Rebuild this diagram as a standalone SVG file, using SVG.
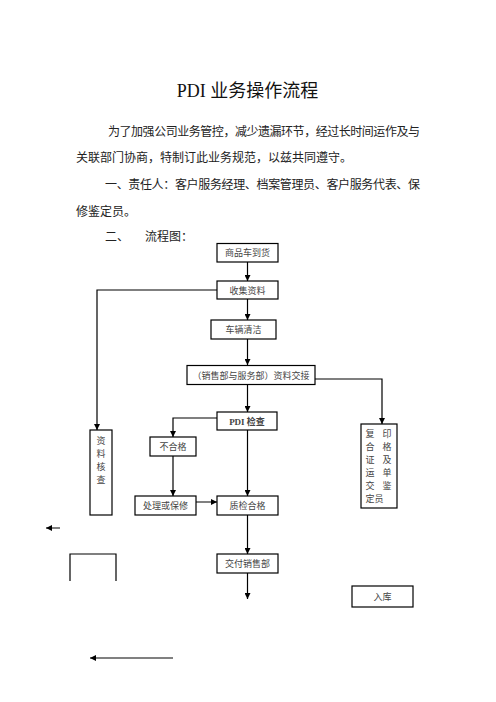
<svg xmlns="http://www.w3.org/2000/svg" width="496" height="702" viewBox="0 0 496 702">
<style>
.bg{fill:#fff}
.box{fill:#fff;stroke:#000;stroke-width:1.2}
.t{font-family:"Liberation Serif","Noto Sans CJK SC",serif;fill:#444;font-size:9px;text-anchor:middle}
.p{font-family:"Liberation Serif","Noto Sans CJK SC",serif;fill:#222;font-size:12px}
.title{font-family:"Liberation Serif","Noto Sans CJK SC",serif;fill:#111;font-size:18px;text-anchor:middle}
.ln{fill:none;stroke:#000;stroke-width:1.2}
.gl{fill:none;stroke:#808080;stroke-width:2}
</style>
<defs>
<marker id="ah" markerUnits="userSpaceOnUse" markerWidth="6" markerHeight="6" refX="6" refY="3" orient="auto"><path d="M0,0 L6,3 L0,6 z" fill="#000"/></marker>
<marker id="ahg" markerUnits="userSpaceOnUse" markerWidth="7" markerHeight="6" refX="6" refY="3" orient="auto"><path d="M0,0 L6,3 L0,6 z" fill="#000"/></marker>
</defs>
<rect class="bg" x="0" y="0" width="496" height="702"/>
<text class="title" x="247.5" y="97">PDI 业务操作流程</text>
<text class="p" x="108" y="136" textLength="312" lengthAdjust="spacing">为了加强公司业务管控，减少遗漏环节，经过长时间运作及与</text>
<text class="p" x="76" y="162">关联部门协商，特制订此业务规范，以兹共同遵守。</text>
<text class="p" x="105" y="189" textLength="315" lengthAdjust="spacing">一、责任人：客户服务经理、档案管理员、客户服务代表、保</text>
<text class="p" x="76" y="216">修鉴定员。</text>
<text class="p" x="105" y="241">二、</text>
<text class="p" x="145" y="241">流程图：</text>

<g id="connectors">
<path class="ln" d="M247.5,262 V281" marker-end="url(#ah)"/>
<path class="ln" d="M247.5,299 V320" marker-end="url(#ah)"/>
<path class="ln" d="M247.5,339 V365" marker-end="url(#ah)"/>
<path class="ln" d="M247.5,385 V412" marker-end="url(#ah)"/>
<path class="ln" d="M315,379 H382 V424" marker-end="url(#ah)"/>
<path class="ln" d="M217,290 H97 V430" marker-end="url(#ah)"/>
<path class="ln" d="M217,418 H173 V437" marker-end="url(#ah)"/>
<path class="ln" d="M173,456 V496" marker-end="url(#ah)"/>
<path class="ln" d="M247.5,430 V496" marker-end="url(#ah)"/>
<path class="gl" d="M196,502 H217" marker-end="url(#ahg)"/>
<path class="ln" d="M247.5,515 V554" marker-end="url(#ah)"/>
<path class="ln" d="M247.5,573 V599" marker-end="url(#ah)"/>
<path class="gl" d="M60,528 H46" marker-end="url(#ahg)"/>
<path class="gl" d="M173,658 H90" marker-end="url(#ahg)"/>
</g>

<g id="n-arrive"><rect class="box" x="217" y="243.5" width="61" height="18.5"/><text class="t" x="247.5" y="256">商品车到货</text></g>
<g id="n-collect"><rect class="box" x="217" y="281" width="61" height="18"/><text class="t" x="247.5" y="293.5">收集资料</text></g>
<g id="n-clean"><rect class="box" x="211" y="320" width="65" height="19"/><text class="t" x="243.5" y="333">车辆清洁</text></g>
<g id="n-handover"><rect class="box" x="187" y="365.5" width="128" height="19"/><text class="t" x="251" y="378.5">（销售部与服务部）资料交接</text></g>
<g id="n-pdi"><rect class="box" x="217" y="412" width="60" height="18"/><text class="t" x="247" y="424.5" font-weight="bold">PDI 检查</text></g>
<g id="n-fail"><rect class="box" x="150" y="437" width="46" height="19"/><text class="t" x="173" y="450">不合格</text></g>
<g id="n-repair"><rect class="box" x="135" y="496" width="61" height="19"/><text class="t" x="165.5" y="509">处理或保修</text></g>
<g id="n-pass"><rect class="box" x="217" y="496" width="61" height="19"/><text class="t" x="247.5" y="509">质检合格</text></g>
<g id="n-deliver"><rect class="box" x="217" y="554" width="61" height="19"/><text class="t" x="247.5" y="567">交付销售部</text></g>
<g id="n-store"><rect class="box" x="352" y="586" width="61" height="21"/><text class="t" x="382.5" y="600">入库</text></g>
<g id="n-check"><rect class="box" x="90" y="430" width="22" height="85"/>
<text class="t" x="101" y="444" font-size="10">资</text>
<text class="t" x="101" y="457" font-size="10">料</text>
<text class="t" x="101" y="470" font-size="10">核</text>
<text class="t" x="101" y="483" font-size="10">查</text></g>
<g id="n-copy"><rect class="box" x="361" y="424" width="36" height="84"/>
<text class="t" x="370" y="436.5">复</text><text class="t" x="387" y="436.5">印</text>
<text class="t" x="370" y="450">合</text><text class="t" x="387" y="450">格</text>
<text class="t" x="370" y="463">证</text><text class="t" x="387" y="463">及</text>
<text class="t" x="370" y="476">运</text><text class="t" x="387" y="476">单</text>
<text class="t" x="370" y="489">交</text><text class="t" x="387" y="489">鉴</text>
<text class="t" x="374.5" y="502">定员</text></g>
<g id="n-open"><path class="ln" d="M70,581 V554 H116 V581"/></g>
</svg>
